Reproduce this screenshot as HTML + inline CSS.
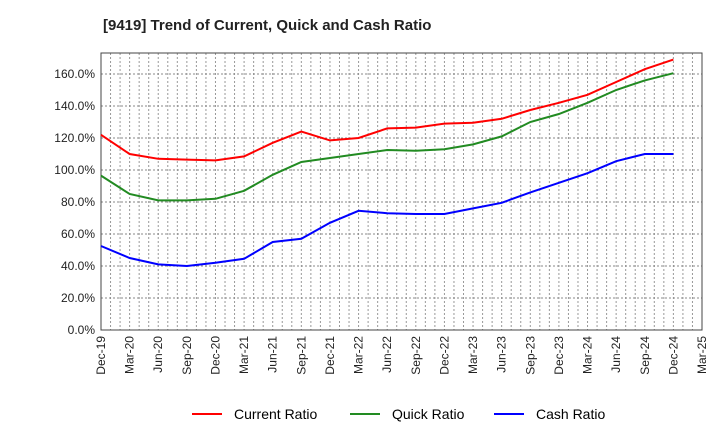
<!DOCTYPE html>
<html><head><meta charset="utf-8"><style>
body{margin:0;background:#fff;font-family:"Liberation Sans",sans-serif;}
svg text{font-family:"Liberation Sans",sans-serif;}
</style></head><body>
<svg width="720" height="440">
<text x="103" y="30" font-size="15" font-weight="bold" fill="#222">[9419]  Trend of Current, Quick and Cash Ratio</text>
<g id="grid"></g><g id="axes"></g><g id="series"></g>
<g>
<line x1="192" y1="414" x2="222" y2="414" stroke="#f00" stroke-width="2"/><text x="234" y="419" font-size="14">Current Ratio</text>
<line x1="350" y1="414" x2="380" y2="414" stroke="#228b22" stroke-width="2"/><text x="392" y="419" font-size="14">Quick Ratio</text>
<line x1="494" y1="414" x2="524" y2="414" stroke="#00f" stroke-width="2"/><text x="536" y="419" font-size="14">Cash Ratio</text>
</g>
</svg>
<script>
const categories=["Dec-19","Mar-20","Jun-20","Sep-20","Dec-20","Mar-21","Jun-21","Sep-21","Dec-21","Mar-22","Jun-22","Sep-22","Dec-22","Mar-23","Jun-23","Sep-23","Dec-23","Mar-24","Jun-24","Sep-24","Dec-24","Mar-25"];
const currentRatio=[122,110,107,106.5,106,108.5,117,124,118.5,120,126,126.5,129,129.5,132,137.5,142,147,155,163,169];
const quickRatio=[96.5,85,81,81,82,87,97,105,107.5,110,112.5,112,113,116,121,130,135,142,150,156,160.5];
const cashRatio=[52.5,45,41,40,42,44.5,55,57,67,74.5,73,72.5,72.5,76,79.5,86,92,98,105.5,110,110];
const yTicks=[0,20,40,60,80,100,120,140,160];
const X0=101,X1=702,Y0=330,YT=53,YMAX=(330-53)/1.6;
const ns="http://www.w3.org/2000/svg";
const xs=i=>X0+(X1-X0)*i/(categories.length-1);
const ys=v=>Y0-(Y0-YT)*v/YMAX;
function mk(tag,attrs,parent){const e=document.createElementNS(ns,tag);for(const k in attrs)e.setAttribute(k,attrs[k]);document.getElementById(parent).appendChild(e);return e;}
for(let m=1;m<(categories.length-1)*3;m++){const x=X0+(X1-X0)*m/((categories.length-1)*3);
const l=mk('line',{x1:x,x2:x,y1:YT,y2:Y0,stroke:'#999','stroke-dasharray':'2,2','stroke-width':1},'grid');

}
yTicks.forEach(v=>{if(v===0)return;const l=mk('line',{x1:X0,x2:X1,y1:ys(v),y2:ys(v),stroke:'#888','stroke-dasharray':'2,2','stroke-width':1},'grid');

});
const fr=mk('rect',{x:X0,y:YT,width:X1-X0,height:Y0-YT,fill:'none',stroke:'#444','stroke-width':1},'axes');


yTicks.forEach(v=>{const t=mk('text',{x:X0-6,y:ys(v)+4,'text-anchor':'end','font-size':12,fill:'#222'},'axes');t.textContent=v.toFixed(1)+'%';

});
categories.forEach((c,i)=>{const x=xs(i);const t=mk('text',{x:x+4,y:Y0+6,'text-anchor':'end','font-size':12,fill:'#222',transform:`rotate(-90 ${x+4} ${Y0+6})`},'axes');t.textContent=c;

});
[[currentRatio,'#f00','current-ratio-line'],[quickRatio,'#228b22','quick-ratio-line'],[cashRatio,'#00f','cash-ratio-line']].forEach(([d,c,n])=>{
const p=mk('polyline',{points:d.map((v,i)=>xs(i)+','+ys(v)).join(' '),fill:'none',stroke:c,'stroke-width':2},'series');

});
</script>
</body></html>
